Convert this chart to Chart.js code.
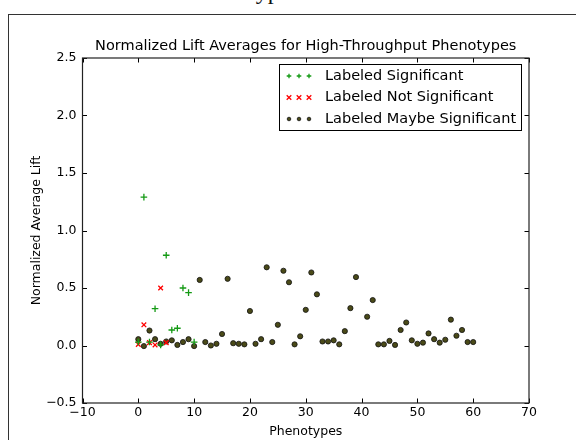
<!DOCTYPE html>
<html lang="en">
<head>
    <meta charset="UTF-8">
    <title>Normalized Lift Averages</title>
    <style>
        body {
            margin: 0;
            background: #fff;
            width: 576px;
            height: 440px;
            overflow: hidden;
            position: relative;
        }

        /* frame of the page the figure sits in */
        .frame {
            position: absolute;
            left: 8px;
            top: 14px;
            width: 700px;
            height: 600px;
            border: 1.5px solid #333;
        }

        .cut-heading {
            position: absolute;
            left: 189px;
            top: -22px;
            font-family: "Liberation Serif", serif;
            font-size: 24px;
            color: #111;
            white-space: nowrap;
        }

        #chart {
            position: absolute;
            left: 0;
            top: 0;
        }
    </style>
</head>
<body>
    <div class="cut-heading">Phenotypes</div>
    <div class="frame"></div>
    <canvas id="chart" width="576" height="440"></canvas>

    <script src="https://cdn.jsdelivr.net/npm/chart.js"></script>
    <script>
        // values
        const sigX = [0, 1, 2, 3, 4, 5, 6, 7, 8, 9, 10];
        const sigY = [0.03, 1.29, 0.03, 0.32, 0.005, 0.785, 0.135, 0.15, 0.50, 0.46, 0.03];

        const notSigX = [0, 1, 2, 3, 4, 5];
        const notSigY = [0.01, 0.18, 0.025, 0.005, 0.50, 0.025];

        const maybeX = [0, 1, 2, 3, 4, 5, 6, 7, 8, 9, 10, 11, 12, 13, 14, 15, 16, 17, 18, 19,
            20, 21, 22, 23, 24, 25, 26, 27, 28, 29, 30, 31, 32, 33, 34, 35, 36, 37, 38, 39,
            41, 42, 43, 44, 45, 46, 47, 48, 49, 50, 51, 52, 53, 54, 55, 56, 57, 58, 59, 60];
        const maybeY = [0.055, -0.005, 0.13, 0.055, 0.015, 0.035, 0.045, 0.005, 0.03, 0.055,
            -0.005, 0.57, 0.03, 0.0, 0.015, 0.10, 0.58, 0.02, 0.015, 0.01,
            0.30, 0.015, 0.055, 0.68, 0.03, 0.18, 0.65, 0.55, 0.01, 0.08,
            0.31, 0.635, 0.445, 0.035, 0.035, 0.045, 0.01, 0.125, 0.325, 0.595,
            0.25, 0.395, 0.01, 0.01, 0.04, 0.005, 0.135, 0.20, 0.045, 0.015,
            0.025, 0.105, 0.055, 0.025, 0.05, 0.225, 0.085, 0.135, 0.03, 0.03];

        const xTicks = [-10, 0, 10, 20, 30, 40, 50, 60, 70];
        const xTickLabels = ['\u221210', '0', '10', '20', '30', '40', '50', '60', '70'];
        const yTicks = [-0.5, 0, 0.5, 1, 1.5, 2, 2.5];
        const yTickLabels = ['\u22120.5', '0.0', '0.5', '1.0', '1.5', '2.0', '2.5'];

        const seriesNames = ['Labeled Significant', 'Labeled Not Significant', 'Labeled Maybe Significant'];

        const FONT = "'DejaVu Sans', sans-serif";

        function toPoints(xs, ys) {
            return xs.map((x, i) => ({ x: x, y: ys[i] }));
        }

        // inward ticks on all four sides, axes box, and the legend box
        const framePlugin = {
            id: 'framePlugin',
            afterDatasetsDraw(chart) {
                const ctx = chart.ctx;
                const a = chart.chartArea;
                const xs = chart.scales.x;
                const ys = chart.scales.y;
                const len = 4.5;
                ctx.save();
                ctx.strokeStyle = '#000';
                ctx.lineWidth = 1;
                ctx.beginPath();
                xTicks.forEach(v => {
                    const px = Math.round(xs.getPixelForValue(v)) + 0.5;
                    ctx.moveTo(px, a.bottom);
                    ctx.lineTo(px, a.bottom - len);
                    ctx.moveTo(px, a.top);
                    ctx.lineTo(px, a.top + len);
                });
                yTicks.forEach(v => {
                    const py = Math.round(ys.getPixelForValue(v)) + 0.5;
                    ctx.moveTo(a.left, py);
                    ctx.lineTo(a.left + len, py);
                    ctx.moveTo(a.right, py);
                    ctx.lineTo(a.right - len, py);
                });
                ctx.stroke();
                ctx.strokeStyle = '#222';
                ctx.lineWidth = 1.2;
                ctx.strokeRect(a.left, a.top, a.right - a.left, a.bottom - a.top);

                // legend
                const lx = 279.5, ly = 64.5, lw = 242, lh = 66;
                ctx.fillStyle = '#fff';
                ctx.fillRect(lx, ly, lw, lh);
                ctx.strokeStyle = '#000';
                ctx.lineWidth = 1;
                ctx.strokeRect(lx, ly, lw, lh);
                const rows = [76, 97.5, 119];
                chart.data.datasets.forEach((ds, i) => {
                    const y = rows[i];
                    [289, 299, 309].forEach(mx => {
                        ctx.beginPath();
                        ctx.strokeStyle = ds.borderColor;
                        ctx.fillStyle = ds.backgroundColor;
                        ctx.lineWidth = ds.borderWidth;
                        const r = 2.3;
                        if (ds.pointStyle === 'cross') {
                            ctx.moveTo(mx - r, y); ctx.lineTo(mx + r, y);
                            ctx.moveTo(mx, y - r); ctx.lineTo(mx, y + r);
                            ctx.stroke();
                        } else if (ds.pointStyle === 'crossRot') {
                            ctx.moveTo(mx - r, y - r); ctx.lineTo(mx + r, y + r);
                            ctx.moveTo(mx + r, y - r); ctx.lineTo(mx - r, y + r);
                            ctx.stroke();
                        } else {
                            ctx.arc(mx, y, 1.8, 0, Math.PI * 2);
                            ctx.fill();
                            ctx.stroke();
                        }
                    });
                    ctx.fillStyle = '#000';
                    ctx.font = '14.5px ' + FONT;
                    ctx.textBaseline = 'middle';
                    ctx.textAlign = 'left';
                    ctx.fillText(ds.label, 325, y);
                });
                ctx.restore();
            }
        };

        const ctx = document.getElementById('chart').getContext('2d');
        const chart = new Chart(ctx, {
            type: 'scatter',
            data: {
                datasets: [{
                    label: seriesNames[0],
                    data: toPoints(sigX, sigY),
                    pointStyle: 'cross',
                    pointRadius: 3.3,
                    borderColor: '#149a14',
                    backgroundColor: '#149a14',
                    borderWidth: 1.3
                }, {
                    label: seriesNames[1],
                    data: toPoints(notSigX, notSigY),
                    pointStyle: 'crossRot',
                    pointRadius: 3.3,
                    borderColor: '#ff0000',
                    backgroundColor: '#ff0000',
                    borderWidth: 1.3
                }, {
                    label: seriesNames[2],
                    data: toPoints(maybeX, maybeY),
                    pointStyle: 'circle',
                    pointRadius: 2.6,
                    borderColor: '#111',
                    backgroundColor: '#4a4a18',
                    borderWidth: 0.8
                }]
            },
            options: {
                responsive: false,
                animation: false,
                layout: { padding: { left: 0, right: 47, top: 0, bottom: 0 } },
                plugins: {
                    legend: { display: false },
                    tooltip: { enabled: false },
                    title: {
                        display: true,
                        fullSize: false,
                        text: 'Normalized Lift Averages for High-Throughput Phenotypes',
                        color: '#000',
                        font: { family: FONT, size: 14.5, weight: 'normal', lineHeight: 1 },
                        padding: { top: 39, bottom: 4.5 }
                    }
                },
                scales: {
                    x: {
                        type: 'linear',
                        min: -10,
                        max: 70,
                        afterBuildTicks: s => { s.ticks = xTicks.map(v => ({ value: v })); },
                        afterFit: s => { s.height = 37; },
                        grid: { display: false, drawTicks: false, tickLength: 0 },
                        border: { display: false },
                        ticks: {
                            padding: 2,
                            color: '#000',
                            font: { family: FONT, size: 12.5 },
                            maxRotation: 0,
                            callback: v => xTickLabels[xTicks.indexOf(v)]
                        },
                        title: {
                            display: true,
                            text: 'Phenotypes',
                            color: '#000',
                            font: { family: FONT, size: 12.5 },
                            padding: { top: 0, bottom: 1 }
                        }
                    },
                    y: {
                        type: 'linear',
                        min: -0.5,
                        max: 2.5,
                        afterBuildTicks: s => { s.ticks = yTicks.map(v => ({ value: v })); },
                        afterFit: s => { s.width = 82.5; },
                        grid: { display: false, drawTicks: false, tickLength: 0 },
                        border: { display: false },
                        ticks: {
                            padding: 6,
                            color: '#000',
                            font: { family: FONT, size: 12.5 },
                            callback: v => yTickLabels[yTicks.indexOf(v)]
                        },
                        title: {
                            display: true,
                            text: 'Normalized Average Lift',
                            color: '#000',
                            font: { family: FONT, size: 12.5 },
                            padding: { top: 29, bottom: 0 }
                        }
                    }
                }
            },
            plugins: [framePlugin]
        });
    </script>
</body>
</html>
